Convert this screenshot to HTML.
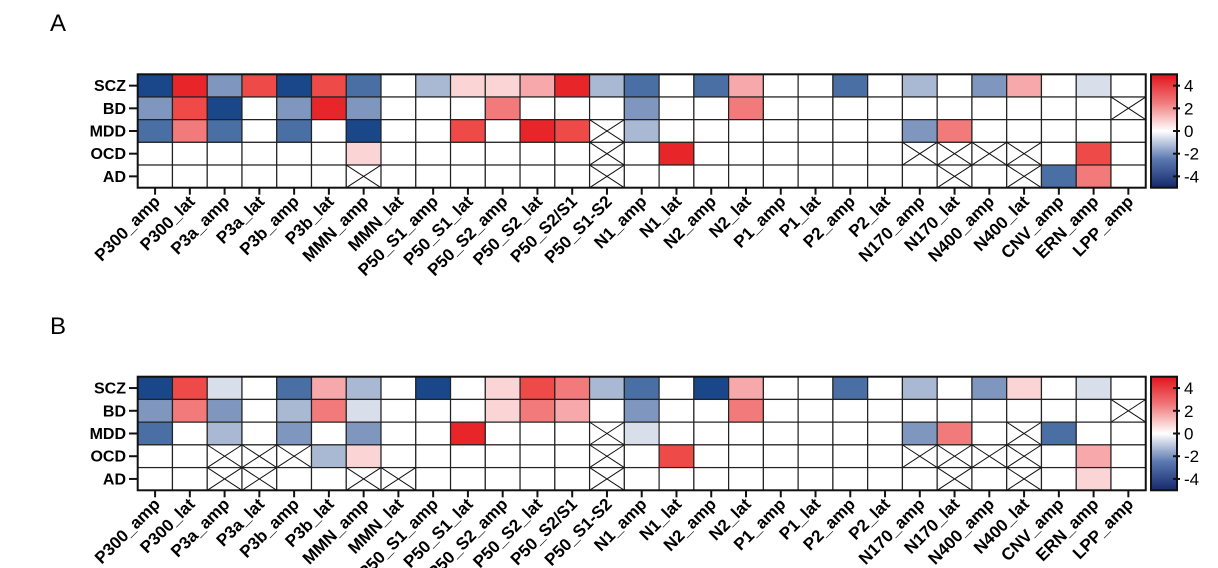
<!DOCTYPE html><html><head><meta charset="utf-8"><style>body{margin:0;background:#fff}svg{display:block}text{font-family:"Liberation Sans",Arial,sans-serif}</style></head><body>
<svg id="s" width="1218" height="568" xmlns="http://www.w3.org/2000/svg">
<defs><linearGradient id="cb" x1="0" y1="1" x2="0" y2="0">
<stop offset="0" stop-color="#15296b"/><stop offset="0.25" stop-color="#5a78b0"/><stop offset="0.5" stop-color="#ffffff"/><stop offset="0.75" stop-color="#f07a7c"/><stop offset="1" stop-color="#e3131b"/></linearGradient></defs>
<text x="50" y="31" font-size="24">A</text>
<text x="50" y="334" font-size="24">B</text>
</svg>
<script>
var C={B5:"#1a4789",B4:"#4a6fa5",B3:"#7f96bf",B2:"#aab9d3",B1:"#d9dfea",R5:"#e8262a",R4:"#ee4a48",R3:"#f27a7a",R2:"#f7a8aa",R1:"#fbd5d5","0":"#ffffff",X:"#ffffff"};
var cols="P300_amp P300_lat P3a_amp P3a_lat P3b_amp P3b_lat MMN_amp MMN_lat P50_S1_amp P50_S1_lat P50_S2_amp P50_S2_lat P50_S2/S1 P50_S1-S2 N1_amp N1_lat N2_amp N2_lat P1_amp P1_lat P2_amp P2_lat N170_amp N170_lat N400_amp N400_lat CNV_amp ERN_amp LPP_amp".split(" ");
var rows=["SCZ","BD","MDD","OCD","AD"];
var A=[
"B5 R5 B3 R4 B5 R4 B4 0 B2 R1 R1 R2 R5 B2 B4 0 B4 R2 0 0 B4 0 B2 0 B3 R2 0 B1 0",
"B3 R4 B5 0 B3 R5 B3 0 0 0 R3 0 0 0 B3 0 0 R3 0 0 0 0 0 0 0 0 0 0 X",
"B4 R3 B4 0 B4 0 B5 0 0 R4 0 R5 R4 X B2 0 0 0 0 0 0 0 B3 R3 0 0 0 0 0",
"0 0 0 0 0 0 R1 0 0 0 0 0 0 X 0 R5 0 0 0 0 0 0 X X X X 0 R4 0",
"0 0 0 0 0 0 X 0 0 0 0 0 0 X 0 0 0 0 0 0 0 0 0 X 0 X B4 R3 0"];
var B=[
"B5 R4 B1 0 B4 R2 B2 0 B5 0 R1 R4 R3 B2 B4 0 B5 R2 0 0 B4 0 B2 0 B3 R1 0 B1 0",
"B3 R3 B3 0 B2 R3 B1 0 0 0 R1 R3 R2 0 B3 0 0 R3 0 0 0 0 0 0 0 0 0 0 X",
"B4 0 B2 0 B3 0 B3 0 0 R5 0 0 0 X B1 0 0 0 0 0 0 0 B3 R3 0 X B4 0 0",
"0 0 X X X B2 R1 0 0 0 0 0 0 X 0 R4 0 0 0 0 0 0 X X X X 0 R2 0",
"0 0 X X 0 0 X X 0 0 0 0 0 X 0 0 0 0 0 0 0 0 0 X 0 X 0 R1 0"];
var s=document.getElementById("s"),h="";
var x0=137.7,cw=34.76,W=cw*29;
function panel(D,y0,y1){var rh=(y1-y0)/5;
for(var r=0;r<5;r++){var v=D[r].split(" ");for(var c=0;c<29;c++){var x=x0+c*cw,y=y0+r*rh;
h+='<rect x="'+x+'" y="'+y+'" width="'+cw+'" height="'+rh+'" fill="'+C[v[c]]+'" stroke="#222" stroke-width="1.2"/>';
if(v[c]=="X")h+='<path d="M'+x+' '+y+'L'+(x+cw)+' '+(y+rh)+'M'+(x+cw)+' '+y+'L'+x+' '+(y+rh)+'" stroke="#111" stroke-width="1"/>';}
var yc=y0+(r+0.5)*rh;h+='<line x1="129" y1="'+yc+'" x2="'+x0+'" y2="'+yc+'" stroke="#111" stroke-width="2"/>';
h+='<text x="126" y="'+(yc+5.5)+'" font-size="16" font-weight="bold" text-anchor="end">'+rows[r]+'</text>';}
h+='<rect x="'+x0+'" y="'+y0+'" width="'+W+'" height="'+(y1-y0)+'" fill="none" stroke="#111" stroke-width="2"/>';
for(var c=0;c<29;c++){var xc=x0+(c+0.5)*cw;h+='<line x1="'+xc+'" y1="'+y1+'" x2="'+xc+'" y2="'+(y1+7)+'" stroke="#111" stroke-width="2"/>';
h+='<text transform="translate('+(xc+6)+','+(y1+15)+') rotate(-45)" font-size="17" font-weight="bold" text-anchor="end">'+cols[c]+'</text>';}
var cx=1151,cbw=26;h+='<rect x="'+cx+'" y="'+y0+'" width="'+cbw+'" height="'+(y1-y0)+'" fill="url(#cb)" stroke="#111" stroke-width="2"/>';
var u=(y1-y0)/10;[4,2,0,-2,-4].forEach(function(t){var y=y0+(5-t)*u;
h+='<line x1="'+(cx+cbw-4)+'" y1="'+y+'" x2="'+(cx+cbw+3)+'" y2="'+y+'" stroke="#111" stroke-width="2"/>';
h+='<text x="'+(cx+cbw+7)+'" y="'+(y+6)+'" font-size="17">'+t+'</text>';});}
panel(A,74.3,187.7);panel(B,376.7,490.3);
s.insertAdjacentHTML("beforeend",h);
</script></body></html>
